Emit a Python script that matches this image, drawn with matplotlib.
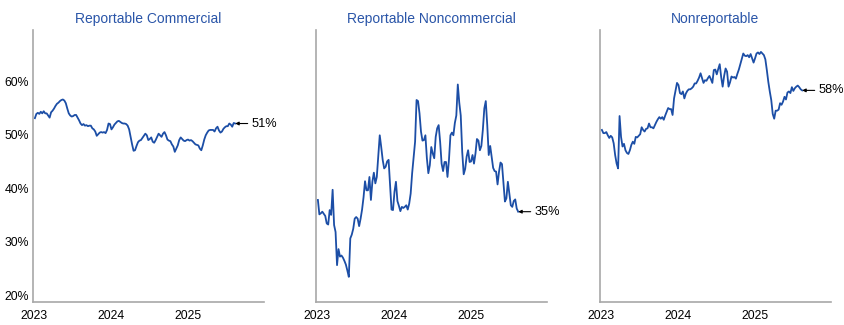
import pandas as pd
import matplotlib
matplotlib.use('Agg')
import matplotlib.pyplot as plt

# weekly share of open interest (%)
titles = ['Reportable Commercial', 'Reportable Noncommercial', 'Nonreportable']
end_labels = ['51%', '35%', '58%']
year_ticks = ['2023', '2024', '2025']
pct_ticks = [20, 30, 40, 50, 60]

commercial = [
    53.1, 53.9, 54.1, 53.9, 54.3, 54.0, 54.4, 54.0, 54.0, 53.6,
    53.2, 54.2, 54.5, 54.9, 55.4, 55.8, 56.0, 56.3, 56.5, 56.6,
    56.4, 55.9, 54.9, 54.0, 53.6, 53.4, 53.5, 53.7, 53.7, 53.2,
    52.7, 52.1, 51.8, 52.0, 51.7, 51.8, 51.6, 51.7, 51.7, 51.2,
    51.0, 50.6, 49.8, 50.1, 50.4, 50.5, 50.4, 50.5, 50.3, 50.9,
    52.1, 52.0, 51.0, 51.4, 51.9, 52.2, 52.5, 52.6, 52.4, 52.2,
    52.1, 52.1, 52.0, 51.7, 51.0, 49.6, 48.2, 47.0, 47.1, 47.9,
    48.6, 48.9, 49.0, 49.4, 49.8, 50.2, 49.9, 49.0, 49.2, 49.5,
    48.7, 48.5, 49.0, 49.6, 50.2, 49.9, 49.6, 50.2, 50.5, 49.9,
    49.1, 48.9, 48.8, 48.2, 47.8, 46.8, 47.4, 48.0, 49.0, 49.5,
    49.2, 48.9, 48.8, 49.0, 49.1, 48.9, 49.0, 48.8, 48.5, 48.2,
    48.1, 48.0, 47.4, 47.1, 48.0, 49.1, 49.9, 50.4, 50.8, 50.9,
    50.9, 50.9, 50.6, 51.2, 51.5, 50.8, 50.4, 50.6, 51.1, 51.4,
    51.6, 51.6, 52.1, 51.9, 51.5, 52.2, 52.1,
]

noncommercial = [
    37.8, 35.1, 35.3, 35.6, 35.2, 34.8, 33.4, 33.2, 35.9, 35.0,
    39.7, 33.1, 31.8, 25.6, 28.6, 27.2, 27.4, 27.0, 26.4, 25.7,
    24.6, 23.4, 30.6, 31.3, 32.4, 34.3, 34.6, 34.3, 32.9, 34.3,
    36.0, 38.3, 41.3, 39.6, 39.6, 42.1, 37.8, 41.2, 42.9, 40.9,
    42.1, 45.9, 49.9, 47.7, 45.3, 43.7, 44.0, 45.0, 45.3, 40.6,
    36.0, 35.9, 39.3, 41.2, 37.6, 36.7, 35.7, 36.5, 36.3, 36.5,
    36.8, 36.0, 37.1, 39.0, 42.8, 45.7, 48.7, 56.5, 56.3, 54.0,
    50.6, 48.9, 49.0, 49.9, 45.6, 42.8, 44.3, 47.7, 46.5, 45.6,
    49.6, 51.2, 51.8, 48.7, 44.6, 43.2, 44.9, 44.9, 42.1, 45.3,
    49.9, 50.4, 49.9, 52.2, 53.6, 59.4, 56.0, 53.6, 46.8, 42.6,
    43.6, 45.9, 47.1, 44.9, 45.0, 46.2, 44.6, 46.5, 49.2, 48.9,
    47.1, 47.9, 50.9, 54.9, 56.3, 51.8, 46.2, 47.9, 45.9, 43.8,
    43.2, 43.1, 40.7, 43.1, 44.8, 44.5, 40.9, 37.5, 38.1, 41.2,
    39.0, 36.8, 36.5, 37.6, 37.9, 36.2, 35.6,
]

nonreportable = [
    50.9, 50.3, 50.3, 50.5, 49.9, 49.4, 49.8, 49.5, 48.4, 46.2,
    44.6, 43.7, 53.5, 49.6, 47.8, 48.3, 47.1, 46.6, 46.4, 47.1,
    48.1, 48.7, 48.3, 49.6, 49.5, 49.8, 50.1, 51.4, 50.9, 50.6,
    51.1, 51.2, 52.1, 51.4, 51.4, 51.2, 51.8, 52.4, 52.9, 53.3,
    53.0, 53.3, 52.8, 53.6, 54.3, 55.0, 54.8, 54.8, 53.7, 56.8,
    58.2, 59.7, 59.3, 57.8, 57.6, 58.1, 56.8, 57.7, 58.2, 58.5,
    58.5, 58.7, 59.0, 59.6, 59.6, 60.1, 60.7, 61.5, 60.6, 59.7,
    60.2, 60.1, 60.6, 61.0, 60.4, 59.7, 62.1, 62.2, 61.3, 62.3,
    63.2, 60.8, 59.0, 61.0, 62.4, 61.8, 59.0, 59.8, 60.9, 60.7,
    60.8, 60.5, 61.4, 62.2, 63.2, 64.2, 65.2, 64.8, 64.7, 64.9,
    64.5, 65.1, 64.3, 63.5, 64.3, 65.2, 65.4, 65.1, 65.5, 65.2,
    64.9, 64.1, 62.1, 59.9, 58.1, 56.5, 53.9, 53.0, 54.5, 54.5,
    54.7, 55.9, 55.6, 56.2, 57.1, 56.6, 57.9, 58.1, 57.8, 58.9,
    58.2, 58.7, 59.0, 59.2, 58.9, 58.5, 58.3,
]

weeks = pd.date_range('2023-01-03', periods=len(commercial), freq='7D')
series = [commercial, noncommercial, nonreportable]

plt.rcParams['font.family'] = ['Liberation Sans', 'DejaVu Sans']

line_color = '#1c4ea6'
title_color = '#2a55a8'
spine_color = '#a8a8a8'

W, H = 845, 325
fig = plt.figure(figsize=(W / 100, H / 100), dpi=100)

lefts = [33, 316, 600]   # pixel position of each panel's y axis
ax_w, ax_top, ax_bot = 231, 30, 302

for i, vals in enumerate(series):
    ax = fig.add_axes([lefts[i] / W, (H - ax_bot) / H, ax_w / W, (ax_bot - ax_top) / H])
    ax.plot(weeks, vals, color=line_color, lw=1.3)

    ax.set_ylim(18.7, 69.6)
    ax.set_xlim(pd.Timestamp('2022-12-25'), pd.Timestamp('2025-12-27'))

    ax.set_xticks([pd.Timestamp(y + '-01-01') for y in year_ticks])
    ax.set_xticklabels(year_ticks)
    ax.set_yticks(pct_ticks)
    if i == 0:
        ax.set_yticklabels([f'{p}%' for p in pct_ticks])
    else:
        ax.set_yticklabels([])
    ax.tick_params(axis='both', length=0, labelsize=8.8, colors='black')
    ax.tick_params(axis='x', pad=6)
    ax.tick_params(axis='y', pad=3)

    for side in ['top', 'right']:
        ax.spines[side].set_visible(False)
    for side in ['left', 'bottom']:
        ax.spines[side].set_color(spine_color)
        ax.spines[side].set_linewidth(1.2)

    ax.set_title(titles[i], color=title_color, fontsize=10, pad=5)

    ax.annotate(end_labels[i], xy=(weeks[-1], vals[-1]), xytext=(12, 0),
                textcoords='offset points', ha='left', va='center', fontsize=9.2,
                arrowprops=dict(arrowstyle='-|>', color='black', lw=0.8,
                                mutation_scale=5, shrinkA=1, shrinkB=0))

fig.savefig('out.png', dpi=100)
